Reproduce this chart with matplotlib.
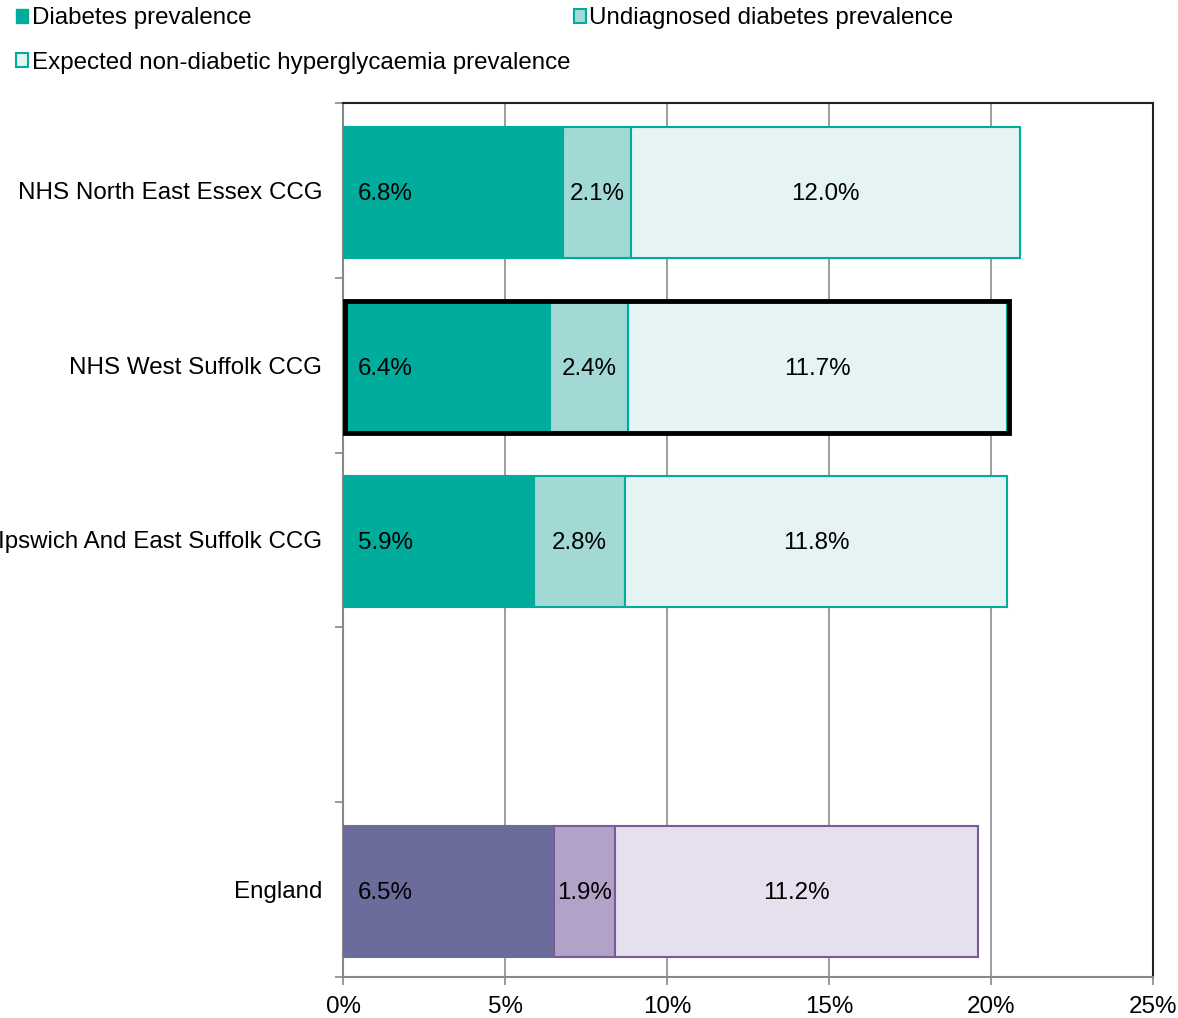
import numpy as np
import matplotlib.pyplot as plt
from matplotlib.patches import Patch, Rectangle

plt.rcParams['font.family'] = ['Liberation Sans', 'DejaVu Sans']

categories = ["NHS North East Essex CCG", "NHS West Suffolk CCG",
              "Ipswich And East Suffolk CCG", "", "England"]
diabetes = [6.8, 6.4, 5.9, np.nan, 6.5]
undiagnosed = [2.1, 2.4, 2.8, np.nan, 1.9]
ndh = [12.0, 11.7, 11.8, np.nan, 11.2]
series_names = ["Diabetes prevalence", "Undiagnosed diabetes prevalence",
                "Expected non-diabetic hyperglycaemia prevalence"]
highlight = "NHS West Suffolk CCG"

teal = ["#00AC9C", "#A2D9D4", "#E5F3F2"]
teal_edge = "#00AC9C"
purple = ["#6C6C9C", "#B3A2C8", "#E6DFED"]
purple_edge = "#7A5A9A"

fig = plt.figure(figsize=(11.78, 10.18), dpi=100)
ax = fig.add_axes([0.2912, 0.0403, 0.6876, 0.8585])

y = np.arange(len(categories))
h = 0.75
fs = 17.4

for i, cat in enumerate(categories):
    if np.isnan(diabetes[i]):
        continue
    cols = purple if cat == "England" else teal
    edge = purple_edge if cat == "England" else teal_edge
    vals = [diabetes[i], undiagnosed[i], ndh[i]]
    left = 0
    for j, v in enumerate(vals):
        ax.barh(y[i] + 0.01, v, left=left, height=h, color=cols[j],
                edgecolor=edge if j > 0 else cols[j], linewidth=1.5, zorder=3)
        if j == 0:
            ax.text(left + 0.45, y[i] + 0.02, f"{v:.1f}%", va='center', ha='left',
                    fontsize=fs, zorder=5)
        else:
            ax.text(left + v / 2, y[i] + 0.02, f"{v:.1f}%", va='center', ha='center',
                    fontsize=fs, zorder=5)
        left += v
    if cat == highlight:
        ax.add_patch(Rectangle((0.05, y[i] + 0.01 - h / 2), left, h, fill=False,
                               edgecolor='black', linewidth=3.5, zorder=6))

ax.set_xlim(0, 25)
ax.set_ylim(len(categories) - 0.5, -0.5)
ax.set_xticks(np.arange(0, 26, 5))
ax.set_xticklabels([f"{t}%" for t in range(0, 26, 5)], fontsize=fs)
ax.set_yticks(y)
ax.set_yticklabels(categories, fontsize=fs)
ax.tick_params(axis='y', which='major', length=0, pad=15)
ax.set_yticks(np.arange(-0.5, len(categories)), minor=True)
ax.tick_params(axis='y', which='minor', length=6, color='#888888', width=1.2)
ax.tick_params(axis='x', length=6, color='#888888', width=1.2, pad=8)
ax.xaxis.grid(True, color='#8C8C8C', linewidth=1.2, zorder=0)
ax.set_axisbelow(True)
for s in ['left', 'bottom']:
    ax.spines[s].set_color('#888888')
    ax.spines[s].set_linewidth(1.5)
for s in ['top', 'right']:
    ax.spines[s].set_color('#222222')
    ax.spines[s].set_linewidth(1.5)

handles = [Patch(facecolor=teal[0], edgecolor=teal_edge, label=series_names[0]),
           Patch(facecolor=teal[2], edgecolor=teal_edge, linewidth=1.5, label=series_names[2]),
           Patch(facecolor=teal[1], edgecolor=teal_edge, linewidth=1.5, label=series_names[1])]
fig.legend(handles=handles, ncol=2, loc='upper left', bbox_to_anchor=(-0.005, 1.014),
           frameon=False, fontsize=fs, handlelength=0.5, handleheight=0.5,
           handletextpad=0.15, columnspacing=0.15, labelspacing=0.92)

fig.savefig("out.png", dpi=100)
